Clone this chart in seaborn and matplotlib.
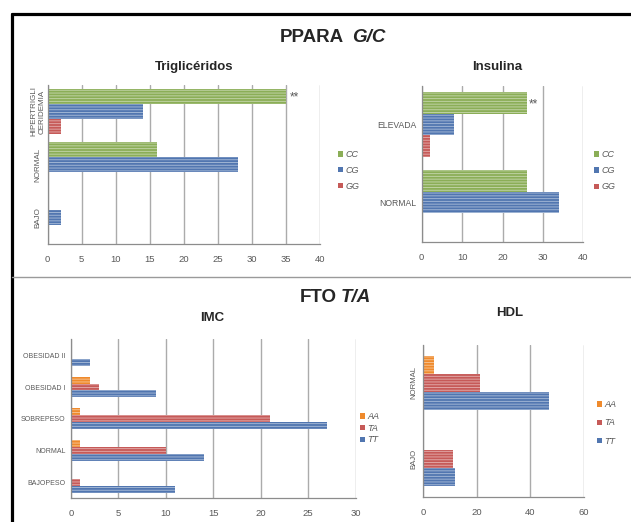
import matplotlib
matplotlib.use('Agg')
import matplotlib.pyplot as plt
import seaborn as sns
import pandas as pd
from matplotlib.patches import Patch
from matplotlib.lines import Line2D
from matplotlib.colors import to_rgb

# ---------------- data ----------------
trig_categories = ['HIPERTRIGLI\nCERIDEMIA', 'NORMAL', 'BAJO']
trig_CC = [35, 16, 0]
trig_CG = [14, 28, 2]
trig_GG = [2, 0, 0]

ins_categories = ['ELEVADA', 'NORMAL']
ins_CC = [26, 26]
ins_CG = [8, 34]
ins_GG = [2, 0]

imc_categories = ['OBESIDAD II', 'OBESIDAD I', 'SOBREPESO', 'NORMAL', 'BAJOPESO']
imc_AA = [0, 2, 1, 1, 0]
imc_TA = [0, 3, 21, 10, 1]
imc_TT = [2, 9, 27, 14, 11]

hdl_categories = ['NORMAL', 'BAJO']
hdl_AA = [4, 0]
hdl_TA = [21, 11]
hdl_TT = [47, 12]

top_genos = ['CC', 'CG', 'GG']
bot_genos = ['AA', 'TA', 'TT']

GREEN = '#8BAE57'
BLUE = '#5176B0'
RED = '#C65A58'
ORANGE = '#EF8A2C'
top_colors = [GREEN, BLUE, RED]
bot_colors = [ORANGE, RED, BLUE]

W, H = 631, 522
sns.set_style('white')
plt.rcParams['font.family'] = ['Liberation Sans', 'DejaVu Sans']
plt.rcParams['hatch.linewidth'] = 0.7

fig = plt.figure(figsize=(W / 100, H / 100), dpi=100)
fig.patch.set_facecolor('white')

TICK_COLOR = '#595959'
GRID_COLOR = '#ABABAB'
SPINE_COLOR = '#8C8C8C'


def rect(x0, y0, x1, y1):
    return [x0 / W, 1 - y1 / H, (x1 - x0) / W, (y1 - y0) / H]


def lighten(c, f=0.45):
    r, g, b = to_rgb(c)
    return (r + (1 - r) * f, g + (1 - g) * f, b + (1 - b) * f)


def long_df(cats, genos, series):
    rows = []
    for g, vals in zip(genos, series):
        for c, v in zip(cats, vals):
            rows.append({'cat': c, 'geno': g, 'val': v})
    return pd.DataFrame(rows)


def panel(box, cats, genos, series, colors, width, xmax, step,
          ylab_rot, ylab_size, star=False):
    ax = fig.add_axes(rect(*box))
    df = long_df(cats, genos, series)
    sns.barplot(data=df, x='val', y='cat', hue='geno', order=cats,
                hue_order=genos, palette=colors, orient='h', width=width,
                saturation=1, errorbar=None, legend=False, ax=ax)
    for p in ax.patches:
        fc = p.get_facecolor()
        p.set_hatch('------')
        p.set_edgecolor(lighten(fc[:3]))
        p.set_linewidth(0)
    ax.set_xlim(0, xmax)
    ax.set_xticks(range(0, xmax + 1, step))
    ax.set_xlabel('')
    ax.set_ylabel('')
    ax.grid(axis='x', color=GRID_COLOR, lw=1.0)
    ax.grid(axis='y', visible=False)
    ax.set_axisbelow(True)
    for s in ['top', 'right']:
        ax.spines[s].set_visible(False)
    for s in ['left', 'bottom']:
        ax.spines[s].set_color(SPINE_COLOR)
        ax.spines[s].set_linewidth(0.9)
    ax.tick_params(axis='x', labelsize=6.8, colors=TICK_COLOR, length=0, pad=8)
    ax.tick_params(axis='y', labelsize=ylab_size, colors=TICK_COLOR, length=0, pad=4)
    if ylab_rot:
        for t in ax.get_yticklabels():
            t.set_rotation(90)
            t.set_va('center')
            t.set_ha('center')
            t.set_multialignment('center')
        ax.tick_params(axis='y', pad=7)
    if star:
        bar = ax.containers[0][0]
        ax.text(bar.get_x() + bar.get_width() + xmax * 0.015,
                bar.get_y() + bar.get_height() / 2 + 0.02, '**',
                fontsize=8.5, color=TICK_COLOR, va='center', ha='left')
    return ax


panel((47.7, 85, 320, 244), trig_categories, top_genos,
      [trig_CC, trig_CG, trig_GG], top_colors, 0.85, 40, 5, True, 5.8, star=True)
panel((421.7, 85.7, 583.3, 241.7), ins_categories, top_genos,
      [ins_CC, ins_CG, ins_GG], top_colors, 0.83, 40, 10, False, 6.2, star=True)
panel((71, 339.3, 355.6, 498.3), imc_categories, bot_genos,
      [imc_AA, imc_TA, imc_TT], bot_colors, 0.66, 30, 5, False, 5)
panel((423.3, 345, 584, 496.7), hdl_categories, bot_genos,
      [hdl_AA, hdl_TA, hdl_TT], bot_colors, 0.71, 60, 20, True, 5.6)


def fx(x):
    return x / W


def fy(y):
    return 1 - y / H


# titles
fig.text(fx(344), fy(37), 'PPARA', fontsize=13.5, fontweight='bold', ha='right', va='center')
fig.text(fx(352), fy(37), 'G/C', fontsize=13.5, fontweight='bold', style='italic', ha='left', va='center')
fig.text(fx(337), fy(298), 'FTO', fontsize=13.5, fontweight='bold', ha='right', va='center')
fig.text(fx(341), fy(298), 'T/A', fontsize=13.5, fontweight='bold', style='italic', ha='left', va='center')

fig.text(fx(194), fy(67), 'Triglicéridos', fontsize=9.5, fontweight='bold', ha='center', va='center')
fig.text(fx(497), fy(67), 'Insulina', fontsize=9.5, fontweight='bold', ha='center', va='center')
fig.text(fx(212), fy(318), 'IMC', fontsize=9.5, fontweight='bold', ha='center', va='center')
fig.text(fx(510), fy(313), 'HDL', fontsize=9.5, fontweight='bold', ha='center', va='center')


def legend(x, ytop, genos, colors, spacing):
    handles = [Patch(facecolor=c, edgecolor='none', label=g) for g, c in zip(genos, colors)]
    fig.legend(handles=handles, loc='upper left', bbox_to_anchor=(fx(x), fy(ytop)),
               frameon=False, prop={'style': 'italic', 'size': 6.5},
               labelcolor=TICK_COLOR, handlelength=0.55, handleheight=0.55,
               handletextpad=0.3, borderpad=0, borderaxespad=0,
               labelspacing=spacing)


legend(338, 150, top_genos, top_colors, 0.75)
legend(594, 150, top_genos, top_colors, 0.8)
legend(360, 412, bot_genos, bot_colors, 0.3)
legend(597, 400, bot_genos, bot_colors, 1.05)

# frame lines
fig.add_artist(Line2D([fx(12), 1], [fy(14), fy(14)], color='black', lw=2.3,
                      transform=fig.transFigure))
fig.add_artist(Line2D([fx(12), fx(12)], [fy(14), 0], color='black', lw=2.3,
                      transform=fig.transFigure))
fig.add_artist(Line2D([fx(12), 1], [fy(277), fy(277)], color='#9A9A9A', lw=1.0,
                      transform=fig.transFigure))

fig.savefig('out.png', dpi=100, facecolor='white')
